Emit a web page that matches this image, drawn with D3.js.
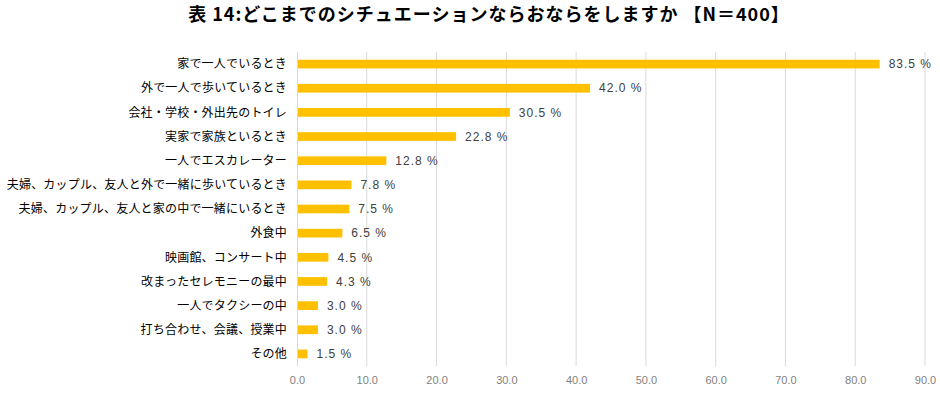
<!DOCTYPE html>
<html>
<head>
<meta charset="utf-8">
<script src="https://cdn.jsdelivr.net/npm/d3@7"></script>
<style>
  body { margin: 0; background: #fff; }
  svg text { font-family: "Noto Sans CJK JP", sans-serif; }
</style>
</head>
<body>
<div id="chart"></div>
<script>
'use strict';

const categories = [
    '家で一人でいるとき',
    '外で一人で歩いているとき',
    '会社・学校・外出先のトイレ',
    '実家で家族といるとき',
    '一人でエスカレーター',
    '夫婦、カップル、友人と外で一緒に歩いているとき',
    '夫婦、カップル、友人と家の中で一緒にいるとき',
    '外食中',
    '映画館、コンサート中',
    '改まったセレモニーの最中',
    '一人でタクシーの中',
    '打ち合わせ、会議、授業中',
    'その他'
];
const values = [83.5, 42.0, 30.5, 22.8, 12.8, 7.8, 7.5, 6.5, 4.5, 4.3, 3.0, 3.0, 1.5];
const ticks = [0, 10, 20, 30, 40, 50, 60, 70, 80, 90];
const title = '表 14:どこまでのシチュエーションならおならをしますか 【N＝400】';

const width = 940, height = 397,
    margin = {top: 52, right: 15, bottom: 31, left: 297};

const svg = d3.select('#chart')
    .append('svg')
    .attr('width', width)
    .attr('height', height);

const x = d3.scaleLinear()
    .domain([0, 90])
    .range([margin.left, width - margin.right]);

const y = d3.scaleBand()
    .domain(categories)
    .range([margin.top, height - margin.bottom])
    .paddingInner(0.64)
    .paddingOuter(0.32);

// title
svg.append('text')
    .attr('x', 489)
    .attr('y', 21)
    .attr('text-anchor', 'middle')
    .style('font-size', '18px')
    .style('letter-spacing', '1px')
    .style('font-weight', 'bold')
    .style('fill', '#000')
    .text(title);

// gridlines
svg.append('g')
    .selectAll('line')
    .data(ticks.slice(1))
    .join('line')
    .attr('x1', d => x(d))
    .attr('x2', d => x(d))
    .attr('y1', margin.top)
    .attr('y2', height - margin.bottom)
    .style('stroke', '#d9d9d9')
    .style('stroke-width', 1);

// x axis labels
const xAxis = svg.append('g')
    .attr('transform', 'translate(0,' + (height - margin.bottom) + ')')
    .call(d3.axisBottom(x).tickValues(ticks).tickFormat(d3.format('.1f')).tickSize(0).tickPadding(10));
xAxis.select('.domain').remove();
xAxis.selectAll('text')
    .style('font-family', '"Liberation Sans", Arial, sans-serif')
    .style('font-size', '11px')
    .style('fill', '#7f7f7f');

// bars
svg.append('g')
    .selectAll('rect')
    .data(values)
    .join('rect')
    .attr('x', x(0))
    .attr('y', (d, i) => y(categories[i]))
    .attr('width', d => x(d) - x(0))
    .attr('height', y.bandwidth())
    .style('fill', '#ffc000');

// vertical axis line
svg.append('line')
    .attr('x1', x(0) + 0.5)
    .attr('x2', x(0) + 0.5)
    .attr('y1', margin.top)
    .attr('y2', height - margin.bottom)
    .style('stroke', '#d9d9d9');

// category labels
svg.append('g')
    .selectAll('text')
    .data(categories)
    .join('text')
    .attr('x', x(0) - 10)
    .attr('y', d => y(d) + y.bandwidth() / 2)
    .attr('dy', '.35em')
    .attr('text-anchor', 'end')
    .style('font-size', '12px')
    .style('letter-spacing', '0.2px')
    .style('fill', '#000')
    .text(d => d);

// value labels
svg.append('g')
    .selectAll('text')
    .data(values)
    .join('text')
    .attr('x', d => x(d) + 9)
    .attr('y', (d, i) => y(categories[i]) + y.bandwidth() / 2)
    .attr('dy', '.35em')
    .style('font-family', '"Liberation Sans", Arial, sans-serif')
    .style('font-size', '12px')
    .style('letter-spacing', '1px')
    .style('fill', '#404040')
    .text(d => d3.format('.1f')(d) + ' %');
</script>
</body>
</html>
